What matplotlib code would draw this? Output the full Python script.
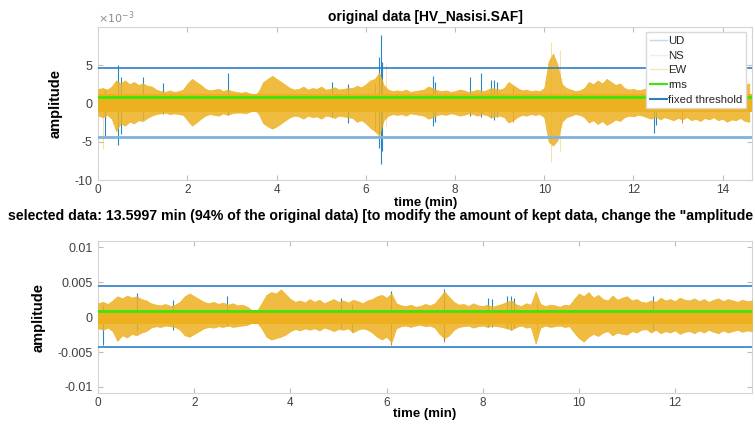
import numpy as np
import matplotlib.pyplot as plt
from matplotlib.lines import Line2D

plt.rcParams['font.family'] = ['Liberation Sans', 'DejaVu Sans']

# envelope of the traces, every 0.1 min (units of 1e-3)
dt = 0.1
top_ew_hi = [1.9, 2.0, 1.8, 2.2, 3.0, 2.6, 3.0, 2.5, 2.8, 2.4,
             2.6, 2.3, 2.2, 1.8, 1.6, 1.5, 1.7, 1.5, 1.6, 1.8,
             2.6, 3.2, 2.8, 2.4, 1.9, 1.7, 1.8, 1.9, 1.6, 1.8,
             1.6, 1.5, 1.4, 1.5, 1.3, 1.0, 1.6, 2.8, 3.2, 3.6,
             3.2, 2.8, 2.4, 2.0, 1.8, 1.9, 2.2, 1.8, 2.0, 1.9,
             2.2, 1.8, 1.9, 2.1, 1.8, 1.9, 2.0, 2.0, 2.3, 2.1,
             2.5, 3.0, 3.2, 4.0, 2.4, 1.8, 1.6, 1.7, 1.6, 1.8,
             1.5, 1.6, 1.7, 1.8, 2.2, 2.0, 1.7, 1.6, 1.7, 1.5,
             1.6, 1.8, 1.7, 1.5, 1.6, 1.8, 1.6, 1.7, 2.0, 1.9,
             1.8, 2.0, 2.8, 2.4, 2.0, 1.7, 1.8, 1.6, 1.7, 1.6,
             2.0, 5.5, 6.5, 5.0, 2.5, 2.0, 1.8, 1.6, 1.7, 2.0,
             2.8, 2.5, 3.0, 2.6, 3.2, 2.8, 2.4, 2.6, 2.0, 1.8,
             1.9, 1.7, 1.8, 2.0, 2.2, 1.9, 2.4, 2.0, 2.2, 2.4,
             2.1, 2.3, 2.0, 2.4, 2.2, 2.5, 2.1, 2.3, 2.0, 2.4,
             2.2, 2.6, 2.3, 2.4, 2.1, 2.5, 2.6]
top_ew_lo = [-1.6, -1.8, -1.5, -2.0, -3.6, -2.6, -2.9, -2.4, -2.6, -2.2,
             -2.3, -1.9, -1.6, -1.4, -1.3, -1.2, -1.4, -1.3, -1.4, -1.5,
             -2.2, -2.9, -2.5, -2.0, -1.6, -1.4, -1.5, -1.6, -1.3, -1.5,
             -1.3, -1.2, -1.2, -1.3, -1.1, -0.8, -1.4, -2.6, -3.0, -3.3,
             -3.0, -2.6, -2.2, -1.8, -1.6, -1.7, -2.0, -1.6, -1.8, -1.7,
             -2.0, -1.6, -1.7, -1.9, -1.6, -1.7, -1.8, -1.9, -2.4, -2.2,
             -2.6, -3.2, -3.6, -4.2, -2.2, -1.6, -1.4, -1.5, -1.4, -1.6,
             -1.3, -1.4, -1.5, -1.6, -2.0, -1.8, -1.5, -1.4, -1.5, -1.3,
             -1.4, -1.6, -1.5, -1.3, -1.4, -1.6, -1.4, -1.5, -1.8, -1.7,
             -1.6, -1.8, -2.5, -2.2, -1.8, -1.5, -1.6, -1.4, -1.5, -1.4,
             -1.8, -5.0, -5.5, -4.8, -2.4, -1.8, -1.6, -1.4, -1.5, -1.8,
             -2.5, -2.2, -2.7, -2.3, -2.8, -2.5, -2.1, -2.3, -1.8, -1.6,
             -1.7, -1.5, -1.6, -1.8, -2.0, -1.7, -2.1, -1.8, -2.0, -2.2,
             -1.9, -2.1, -1.8, -2.2, -2.0, -2.3, -1.9, -2.1, -1.8, -2.2,
             -2.0, -2.4, -2.1, -2.2, -1.9, -2.3, -2.4]

sel_ew_hi = [2.0, 2.2, 1.9, 2.4, 3.0, 2.7, 3.1, 2.8, 3.0, 2.6,
             2.4, 2.0, 1.8, 1.7, 1.9, 1.6, 1.8, 2.2, 3.0, 3.4,
             3.0, 2.6, 2.2, 2.0, 2.2, 1.9, 2.1, 1.8, 2.0, 1.7,
             1.8, 1.5, 1.0, 0.9, 2.0, 3.2, 3.6, 3.4, 4.0, 3.3,
             2.6, 2.2, 2.4, 2.1, 2.6, 2.2, 2.5, 2.0, 2.3, 2.6,
             2.2, 2.4, 2.1, 2.5, 2.3, 2.0, 2.4, 2.6, 3.0, 3.2,
             2.8, 3.4, 2.0, 1.7, 1.6, 1.8, 1.5, 1.6, 1.9, 1.7,
             2.0, 2.8, 3.7, 2.9, 2.2, 1.8, 1.9, 1.6, 2.0, 1.7,
             1.6, 1.8, 1.5, 1.7, 1.9, 2.2, 2.4, 1.8, 1.6, 2.0,
             1.8, 3.7, 1.9, 1.6, 1.8, 1.7, 1.5, 1.8, 1.7, 2.6,
             3.4, 3.0, 3.6, 2.8, 3.2, 2.6, 2.4, 3.1, 2.5, 2.8,
             3.0, 2.4, 2.6, 2.2, 2.1, 2.4, 2.2, 2.8, 2.4, 2.6,
             2.3, 2.8, 2.5, 2.4, 2.7, 2.3, 2.6, 2.2, 2.5, 2.7,
             2.3, 2.6, 2.4, 2.2, 2.5, 2.3, 2.4]
sel_ew_lo = [-1.6, -1.8, -1.5, -2.0, -3.4, -2.6, -2.9, -2.4, -2.6, -2.2,
             -2.0, -1.5, -1.3, -1.4, -1.2, -1.3, -1.4, -1.8, -2.6, -2.8,
             -2.4, -2.0, -1.6, -1.4, -1.5, -1.3, -1.4, -1.2, -1.4, -1.3,
             -1.2, -1.1, -0.8, -0.7, -1.6, -2.8, -3.2, -3.0, -2.8, -2.5,
             -2.0, -1.7, -1.9, -1.6, -1.8, -1.6, -1.9, -1.5, -1.7, -2.0,
             -1.7, -1.8, -1.6, -2.2, -1.8, -1.6, -1.8, -2.2, -2.8, -3.2,
             -2.8, -3.6, -1.6, -1.3, -1.2, -1.4, -1.2, -1.1, -1.3, -1.2,
             -1.5, -2.4, -3.0, -2.6, -1.8, -1.4, -1.3, -1.2, -1.5, -1.3,
             -1.2, -1.4, -1.2, -1.3, -1.4, -1.6, -1.8, -1.4, -1.2, -1.5,
             -1.4, -3.8, -1.5, -1.2, -1.4, -1.3, -1.2, -1.4, -1.3, -2.2,
             -3.0, -3.5, -2.8, -2.4, -2.7, -2.2, -2.0, -2.6, -2.2, -2.4,
             -2.5, -2.0, -2.2, -1.8, -1.7, -2.2, -1.8, -2.3, -2.0, -2.2,
             -1.9, -2.4, -2.1, -2.0, -2.3, -1.9, -2.2, -1.8, -2.1, -2.3,
             -1.9, -2.2, -2.0, -1.8, -2.1, -1.9, -2.0]

# dense central band of the traces (1e-3)
top_core = (-1.1, 1.2)
sel_core = (-1.0, 1.1)

# single spikes that stick out of the envelope: (time, low, high), 1e-3
top_ud_spikes = [(0.15, -4.2, 1.8), (0.45, -5.4, 5.0), (0.5, -4.0, 3.5),
                 (1.0, -2.0, 3.4), (1.45, -1.4, 2.6), (2.91, -1.5, 4.0),
                 (5.25, -1.8, 2.8), (5.6, -2.6, 2.5), (6.3, -5.8, 6.0),
                 (6.34, -7.9, 8.9), (6.37, -6.2, 5.4), (7.5, -2.9, 3.6),
                 (7.55, -2.4, 2.8), (8.33, -1.6, 3.4), (8.59, -1.8, 4.0),
                 (8.8, -1.9, 3.0), (8.87, -2.2, 3.1), (8.95, -1.8, 2.8),
                 (12.46, -3.8, 2.0), (12.5, -2.8, 1.8)]
top_pale_spikes = [(0.1, -5.9, 2.0), (10.16, -7.7, 8.0), (10.35, -6.2, 7.0),
                   (6.45, -3.0, 5.0)]
top_ns_spikes = [(6.2, -3.6, 2.6), (9.3, -2.4, 2.2), (13.1, -2.6, 2.4)]

sel_ud_spikes = [(0.11, -4.0, 1.8), (0.8, -2.0, 3.4), (1.55, -1.8, 2.4),
                 (2.67, -1.3, 3.0), (5.06, -1.6, 2.8), (5.27, -2.1, 1.9),
                 (6.1, -2.0, 3.7), (7.2, -3.2, 4.0), (8.1, -1.4, 2.8),
                 (8.2, -1.4, 2.6), (8.5, -1.6, 3.0), (8.58, -1.9, 3.1),
                 (8.65, -1.5, 2.8), (11.54, -1.8, 3.0)]
sel_ns_spikes = [(6.1, -4.0, 2.0), (7.2, -3.5, 2.5), (9.12, -2.0, 2.0)]

rms_level = 0.86e-3
thr_top = (4.57e-3, -4.36e-3)
thr_sel = (4.5e-3, -4.3e-3)

c_ud = '#0072BD'
c_ns = '#D95319'
c_ew = '#EDB120'
c_rms = '#3CE60A'
c_thr = '#2E7EC4'
tick_col = '#404040'
frame_col = '#d4d4d4'

fig = plt.figure(figsize=(7.55, 4.36), dpi=100)
ax1 = fig.add_axes([0.1302, 0.587, 0.8658, 0.350])
ax2 = fig.add_axes([0.1300, 0.098, 0.8660, 0.349])


def draw_traces(ax, hi, lo, core, ud_sp, ns_sp, pale_sp, scale):
    t = np.arange(len(hi)) * dt
    hi = np.array(hi) * scale
    lo = np.array(lo) * scale
    for tt, a, b in ud_sp:
        ax.vlines(tt, a * scale, b * scale, color=c_ud, lw=0.8, alpha=0.85,
                  zorder=2)
    for tt, a, b in ns_sp:
        ax.vlines(tt, a * scale, b * scale, color=c_ns, lw=0.7, alpha=0.8,
                  zorder=2)
    for tt, a, b in pale_sp:
        ax.vlines(tt, a * scale, b * scale, color=c_ew, lw=0.7, alpha=0.4,
                  zorder=2)
    ax.fill_between(t, lo, hi, color=c_ew, lw=0.5, alpha=0.85, zorder=3)
    ax.axhspan(core[0] * scale, core[1] * scale, color=c_ew, lw=0, zorder=3)


def style(ax):
    for sp in ax.spines.values():
        sp.set_color(frame_col)
        sp.set_linewidth(0.8)
    ax.tick_params(direction='in', top=True, right=True, length=3.5,
                   color='#bdbdbd', labelcolor=tick_col, labelsize=9, pad=4)
    ax.tick_params(axis='x', labelsize=8.5, pad=2.5)


# top: original data (plotted in units of 1e-3)
draw_traces(ax1, top_ew_hi, top_ew_lo, top_core, top_ud_spikes,
            top_ns_spikes, top_pale_spikes, 1.0)
ax1.axhline(rms_level * 1e3, color=c_rms, lw=2, zorder=4)
ax1.axhline(thr_top[0] * 1e3, color=c_thr, lw=1.2, zorder=4)
ax1.axhline(thr_top[1] * 1e3, color='#7FB3DA', lw=2, zorder=4)
ax1.set_xlim(0, 14.66)
ax1.set_ylim(-10, 9.9)
ax1.set_xticks(range(0, 15, 2))
ax1.set_yticks([-10, -5, 0, 5])
ax1.set_yticklabels(['-10', '-5', '0', '5'])
style(ax1)
ax1.set_title('original data [HV_Nasisi.SAF]', fontsize=10,
              fontweight='bold', pad=5)
ax1.set_xlabel('time (min)', fontsize=9.5, fontweight='bold')
ax1.set_ylabel('amplitude', fontsize=10.5, fontweight='bold')
ax1.xaxis.set_label_coords(0.5, -0.108)
ax1.yaxis.set_label_coords(-0.055, 0.5)
fig.text(98 / 755, 1 - 18 / 436, r'$\times10^{-3}$', fontsize=8,
         color='#8c8c8c', ha='left', va='center')

handles = [Line2D([], [], color=c_ud, alpha=0.25, lw=1),
           Line2D([], [], color=c_ns, alpha=0.12, lw=1),
           Line2D([], [], color=c_ew, alpha=0.3, lw=1),
           Line2D([], [], color=c_rms, lw=1.5),
           Line2D([], [], color=c_thr, lw=1.5)]
leg = ax1.legend(handles, ['UD', 'NS', 'EW', 'rms', 'fixed threshold'],
                 loc='upper right', bbox_to_anchor=(0.991, 0.968),
                 fontsize=8.2, frameon=True, fancybox=False, framealpha=1,
                 edgecolor='#d9d9d9', borderpad=0.3, labelspacing=0.42,
                 handlelength=1.5, handletextpad=0.15, borderaxespad=0)
for txt in leg.get_texts():
    txt.set_color('#262626')
leg.set_zorder(10)

# bottom: selected data
draw_traces(ax2, sel_ew_hi, sel_ew_lo, sel_core, sel_ud_spikes,
            sel_ns_spikes, [], 1e-3)
ax2.axhline(rms_level, color=c_rms, lw=2, zorder=4)
ax2.axhline(thr_sel[0], color=c_thr, lw=1.2, zorder=4)
ax2.axhline(thr_sel[1], color=c_thr, lw=1.2, zorder=4)
ax2.set_xlim(0, 13.6)
ax2.set_ylim(-0.0109, 0.0109)
ax2.set_xticks(range(0, 13, 2))
ax2.set_yticks([-0.01, -0.005, 0, 0.005, 0.01])
ax2.set_yticklabels(['-0.01', '-0.005', '0', '0.005', '0.01'])
style(ax2)
ax2.set_xlabel('time (min)', fontsize=9.5, fontweight='bold')
ax2.set_ylabel('amplitude', fontsize=10.5, fontweight='bold')
ax2.xaxis.set_label_coords(0.5, -0.1)
ax2.yaxis.set_label_coords(-0.081, 0.5)
fig.text(8 / 755, 1 - 216 / 436,
         'selected data: 13.5997 min (94% of the original data) '
         '[to modify the amount of kept data, change the "amplitude',
         fontsize=10.2, fontweight='bold', ha='left', va='center')

fig.savefig('out.png', dpi=100)
